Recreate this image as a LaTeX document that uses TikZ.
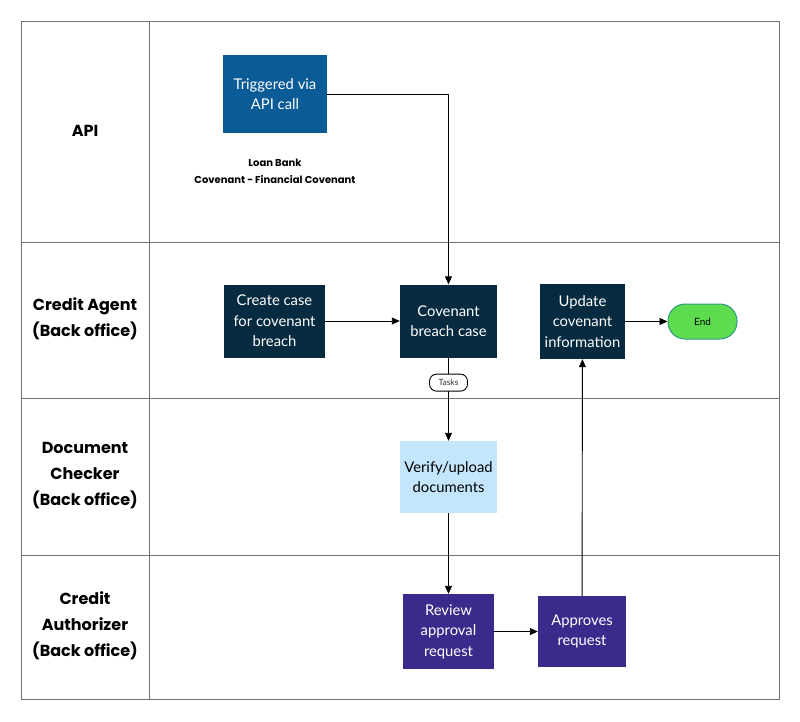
\documentclass[tikz,border=0pt]{standalone}
\usepackage{fontspec}
\setmainfont{Lato}
\newfontfamily\lanefont{Poppins}
\usetikzlibrary{arrows.meta}
\definecolor{navy}{HTML}{062A40}
\definecolor{apiblue}{HTML}{0A5B96}
\definecolor{lightblue}{HTML}{C4E6FC}
\definecolor{purp}{HTML}{3A2A8B}
\definecolor{endgreen}{HTML}{5EDB4F}
\definecolor{endborder}{HTML}{2C9A80}
\definecolor{frame}{HTML}{6C6F76}
\tikzset{
  lane/.style={font=\lanefont\bfseries\fontsize{16}{26}\selectfont, align=center, text=black},
  box/.style={minimum width=#1, align=center, inner sep=0pt, font=\fontsize{14.8}{20.5}\selectfont},
  darkbox/.style={box=98pt, minimum height=73pt, fill=navy, text=white},
  flow/.style={draw=black, line width=0.9pt, -{Triangle[length=8pt,width=7pt]}},
}
\begin{document}
\begin{tikzpicture}[x=1pt,y=-1pt]
\useasboundingbox (0,0) rectangle (800,721);
% frame
\draw[frame, line width=1pt] (21,21) rectangle (779,699);
\draw[frame, line width=1pt] (149,21) -- (149,699);
\draw[frame, line width=1pt] (21,242) -- (779,242);
\draw[frame, line width=1pt] (21,398) -- (779,398);
\draw[frame, line width=1pt] (21,555) -- (779,555);
% lane labels
\node[lane] (l1) at (85,131) {API};
\node[lane] (l2) at (85,319) {Credit Agent\\(Back office)};
\node[lane] (l3) at (85,476) {Document\\Checker\\(Back office)};
\node[lane] (l4) at (85,626) {Credit\\Authorizer\\(Back office)};
% nodes
\node[box=104pt, minimum height=78pt, fill=apiblue, text=white] (api) at (275,94) {Triggered via\\API call};
\node[align=center, font=\lanefont\bfseries\fontsize{10}{17}\selectfont] (lb) at (275,171) {Loan Bank\\Covenant - Financial Covenant};
\node[darkbox, minimum width=101pt] (create) at (274.5,321) {Create case\\for covenant\\breach};
\node[darkbox, minimum width=97pt] (cov) at (448.5,321) {Covenant\\breach case};
\node[darkbox, minimum width=85pt, minimum height=75pt] (upd) at (582.5,321.5) {Update\\covenant\\information};
\node[draw=endborder, line width=1pt, fill=endgreen, rounded corners=17pt, minimum width=69pt, minimum height=35pt, inner sep=0pt, font=\fontsize{10}{12}\selectfont] (end) at (702.5,321.5) {End};
\node[box=97pt, minimum height=72pt, fill=lightblue, text=black] (ver) at (448.5,477) {Verify/upload\\documents};
\node[box=91pt, minimum height=75pt, fill=purp, text=white] (rev) at (448.5,631.5) {Review\\approval\\request};
\node[box=88pt, minimum height=71pt, fill=purp, text=white] (appr) at (582,631.5) {Approves\\request};
% connectors
\draw[flow] (api.east) -| (cov.north);
\draw[flow] (create) -- (cov);
\draw[flow] (cov) -- (ver) node[pos=0.3, draw=black, line width=0.9pt, fill=white, rounded corners=7pt, minimum width=38pt, minimum height=17pt, inner sep=0pt, font=\fontsize{8.5}{10}\selectfont, text=black!80] (tasks) {Tasks};
\draw[flow] (ver) -- (rev);
\draw[flow] (rev) -- (appr);
\draw[flow] (appr) -- (upd);
\draw[flow] (upd) -- (end);
\end{tikzpicture}
\end{document}
